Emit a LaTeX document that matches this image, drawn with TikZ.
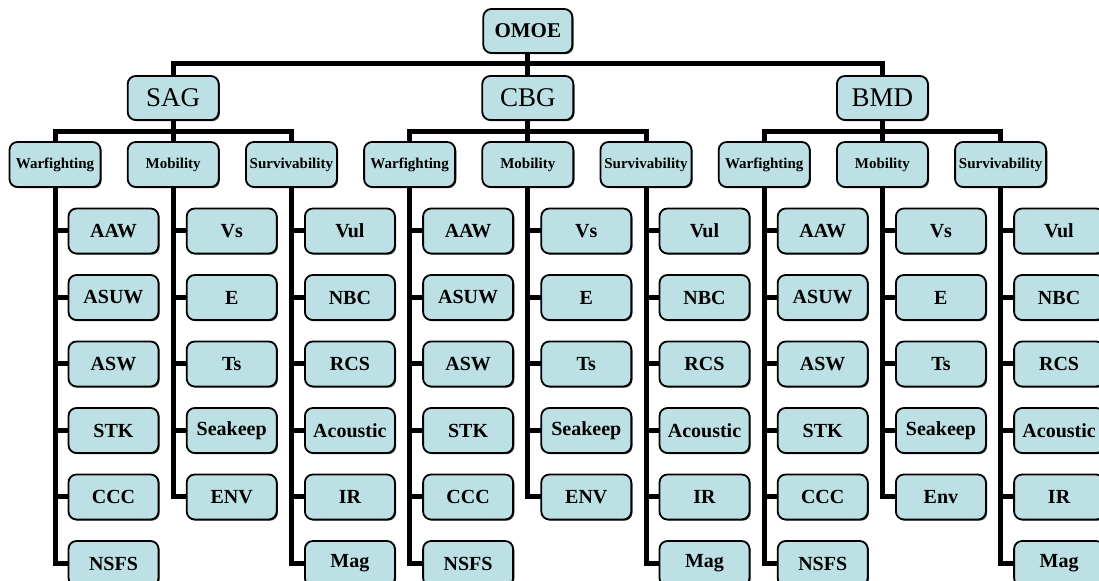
\documentclass[tikz,border=0pt]{standalone}
\usepackage{fontspec}
\setmainfont{Liberation Serif}
\usepackage{tikz}
\usetikzlibrary{positioning,shadows}
\definecolor{boxfill}{HTML}{BCE0E3}

% one column of leaves hanging from a category box
\newcommand\leafcol[2]{%
  \foreach \txt [count=\n, remember=\n as \p (initially 0)] in {#2}{%
    \ifnum\n=1
      \node[leaf, below=10.75pt of #1, xshift=29.25pt] (#1-\n) {\txt};
    \else
      \node[leaf, below=10.75pt of #1-\p] (#1-\n) {\txt};
    \fi
    \draw[link] (#1.south) |- (#1-\n.west);
  }%
}

\begin{document}
\begin{tikzpicture}[
    x=0.5pt, y=0.5pt,
    box/.style={draw=black, line width=0.9pt, rounded corners=4pt, fill=boxfill, inner sep=1pt, outer sep=0pt, align=center,
      drop shadow={shadow xshift=0.6pt, shadow yshift=-0.6pt, fill=black, opacity=0.8}},
    topbox/.style={box, minimum width=44.5pt, minimum height=22pt, font=\fontsize{10.5}{12}\selectfont\bfseries},
    grpbox/.style={box, minimum width=45.5pt, minimum height=22pt, font=\fontsize{13.5}{15}\selectfont},
    catbox/.style={box, minimum width=45.5pt, minimum height=22.5pt, font=\fontsize{7.5}{9}\selectfont\bfseries},
    leaf/.style={box, minimum width=45pt, minimum height=22.5pt, font=\fontsize{10}{12}\selectfont\bfseries},
    link/.style={line width=2.5pt}
  ]
    \useasboundingbox (0,0) rectangle (1099,-581);

    \node[topbox] (omoe) at (527.8,-31) {OMOE};

    \foreach \g/\lbl [count=\i from 0] in {sag/SAG, cbg/CBG, bmd/BMD}{
      \node[grpbox] (\g) at ({173.2+354.6*\i},-98) {\lbl};
      \draw[link] (omoe.south) -- ++(0,-11) -| (\g.north);
      \node[catbox, below=11pt of \g] (\g-mob) {Mobility};
      \node[catbox, left=13.6pt of \g-mob] (\g-wf) {Warfighting};
      \node[catbox, right=13.6pt of \g-mob] (\g-sur) {Survivability};
      \foreach \c in {wf,mob,sur}
        \draw[link] (\g.south) -- ++(0,-12) -| (\g-\c.north);
    }

    \foreach \g/\env in {sag/ENV, cbg/ENV, bmd/Env}{
      \leafcol{\g-wf}{AAW,ASUW,ASW,STK,CCC,NSFS}
      \leafcol{\g-mob}{Vs,E,Ts,Seakeep,\env}
      \leafcol{\g-sur}{Vul,NBC,RCS,Acoustic,IR,Mag}
    }
  \end{tikzpicture}
\end{document}
